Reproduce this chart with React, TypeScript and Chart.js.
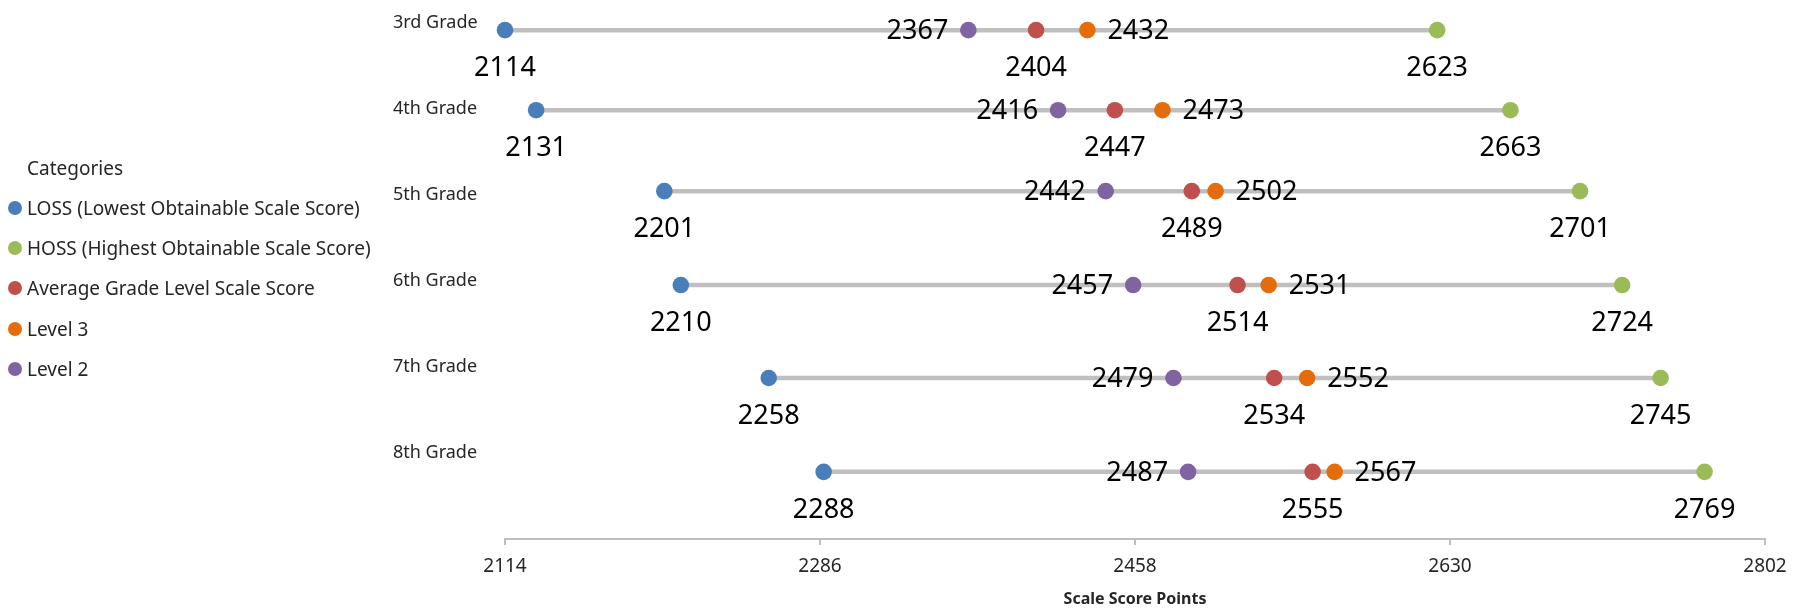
import React, { useEffect, useRef } from "react";
import { Chart, registerables } from "chart.js";

Chart.register(...registerables);

const grades = ["3rd Grade", "4th Grade", "5th Grade", "6th Grade", "7th Grade", "8th Grade"];
const loss = [2114, 2131, 2201, 2210, 2258, 2288];
const hoss = [2623, 2663, 2701, 2724, 2745, 2769];
const avgScore = [2404, 2447, 2489, 2514, 2534, 2555];
const level3 = [2432, 2473, 2502, 2531, 2552, 2567];
const level2 = [2367, 2416, 2442, 2457, 2479, 2487];
const rowY = [5.91, 4.98, 4.04, 2.95, 1.87, 0.78];
const gradeLabelY = [6, 5, 4, 3, 2, 1];
const xTicks = [2114, 2286, 2458, 2630, 2802];

const FONT = "'Noto Sans', 'Open Sans', sans-serif";

const series = [
  { name: "LOSS (Lowest Obtainable Scale Score)", values: loss, color: "#4A7EBB", pos: "below", order: 5 },
  { name: "HOSS (Highest Obtainable Scale Score)", values: hoss, color: "#9BBB59", pos: "below", order: 4 },
  { name: "Average Grade Level Scale Score", values: avgScore, color: "#C0504D", pos: "below", order: 3 },
  { name: "Level 3", values: level3, color: "#E46C0A", pos: "right", order: 2 },
  { name: "Level 2", values: level2, color: "#8064A2", pos: "left", order: 1 },
];

const labelPlugin = {
  id: "dumbbellLabels",
  afterDatasetsDraw(chart: any) {
    const ctx = chart.ctx;
    ctx.save();
    ctx.font = `27px ${FONT}`;
    ctx.fillStyle = "#000000";
    chart.data.datasets.forEach((ds: any, di: number) => {
      if (!ds.labelPos) return;
      const meta = chart.getDatasetMeta(di);
      meta.data.forEach((pt: any, i: number) => {
        const v = ds.data[i].x;
        const text = String(v);
        ctx.textBaseline = "middle";
        if (ds.labelPos === "below") {
          ctx.textAlign = "center";
          ctx.fillText(text, pt.x, pt.y + 38);
        } else if (ds.labelPos === "left") {
          ctx.textAlign = "right";
          ctx.fillText(text, pt.x - 20, pt.y + 1);
        } else {
          ctx.textAlign = "left";
          ctx.fillText(text, pt.x + 20, pt.y + 1);
        }
      });
    });
    ctx.restore();
  },
};

export default function App() {
  const canvasRef = useRef<HTMLCanvasElement | null>(null);

  useEffect(() => {
    if (!canvasRef.current) return;
    const lineSets = grades.map((g, i) => ({
      type: "line" as const,
      label: g,
      data: [
        { x: loss[i], y: rowY[i] },
        { x: hoss[i], y: rowY[i] },
      ],
      borderColor: "#BFBFBF",
      borderWidth: 4.5,
      pointRadius: 0,
      fill: false,
      clip: false,
      order: 10,
    }));
    const pointSets = series.map((s) => ({
      type: "scatter" as const,
      label: s.name,
      data: s.values.map((v, i) => ({ x: v, y: rowY[i] })),
      backgroundColor: s.color,
      borderColor: s.color,
      pointRadius: 8.3,
      pointBorderWidth: 0,
      pointHoverRadius: 8.3,
      clip: false,
      order: s.order,
      labelPos: s.pos,
    }));

    const chart = new Chart(canvasRef.current, {
      type: "scatter",
      data: { datasets: [...pointSets, ...lineSets] as any },
      options: {
        animation: false,
        responsive: true,
        maintainAspectRatio: false,
        layout: { padding: { left: 393, right: 37, top: 8, bottom: 0 } },
        plugins: { legend: { display: false }, tooltip: { enabled: false } },
        scales: {
          x: {
            type: "linear",
            min: 2114,
            max: 2802,
            afterBuildTicks: (scale: any) => {
              scale.ticks = xTicks.map((v) => ({ value: v }));
            },
            afterFit: (scale: any) => {
              scale.height = 72;
            },
            grid: {
              display: true,
              drawOnChartArea: false,
              drawTicks: true,
              tickLength: 6,
              color: "#BFBFBF",
              lineWidth: 2,
            },
            border: { display: true, color: "#BFBFBF", width: 2 },
            ticks: {
              autoSkip: false,
              maxRotation: 0,
              padding: 10,
              color: "#262626",
              font: { family: FONT, size: 19 },
              callback: (value: any) => String(value),
            },
            title: {
              display: true,
              text: "Scale Score Points",
              color: "#262626",
              font: { family: FONT, size: 16, weight: "bold" },
              padding: { top: 0, bottom: 2 },
            },
          },
          y: {
            type: "linear",
            min: 0,
            max: 6.1,
            afterBuildTicks: (scale: any) => {
              scale.ticks = gradeLabelY.map((v) => ({ value: v }));
            },
            afterFit: (scale: any) => {
              scale.width = 112;
            },
            grid: { display: false },
            border: { display: false },
            ticks: {
              crossAlign: "far",
              color: "#262626",
              font: { family: FONT, size: 18 },
              callback: (value: any) => {
                const idx = gradeLabelY.indexOf(Number(value));
                return idx >= 0 ? grades[idx] : "";
              },
            },
          },
        },
      } as any,
      plugins: [labelPlugin],
    });
    return () => chart.destroy();
  }, []);

  return (
    <div style={{ position: "fixed", left: 0, top: 0, width: 1802, height: 611, background: "#fff" }}>
      <canvas ref={canvasRef} />
      <div
        style={{
          position: "absolute",
          left: 0,
          top: 0,
          fontFamily: FONT,
          color: "#262626",
          fontSize: 19,
        }}
      >
        <div style={{ position: "absolute", left: 27, top: 168, transform: "translateY(-50%)", whiteSpace: "nowrap" }}>
          Categories
        </div>
        {series.map((s, i) => (
          <div
            key={s.name}
            style={{
              position: "absolute",
              left: 8,
              top: 208 + i * 40.2,
              transform: "translateY(-50%)",
              display: "flex",
              alignItems: "center",
              whiteSpace: "nowrap",
            }}
          >
            <span
              style={{
                display: "inline-block",
                width: 14,
                height: 14,
                borderRadius: "50%",
                background: s.color,
                marginRight: 5,
              }}
            />
            <span>{s.name}</span>
          </div>
        ))}
      </div>
    </div>
  );
}
